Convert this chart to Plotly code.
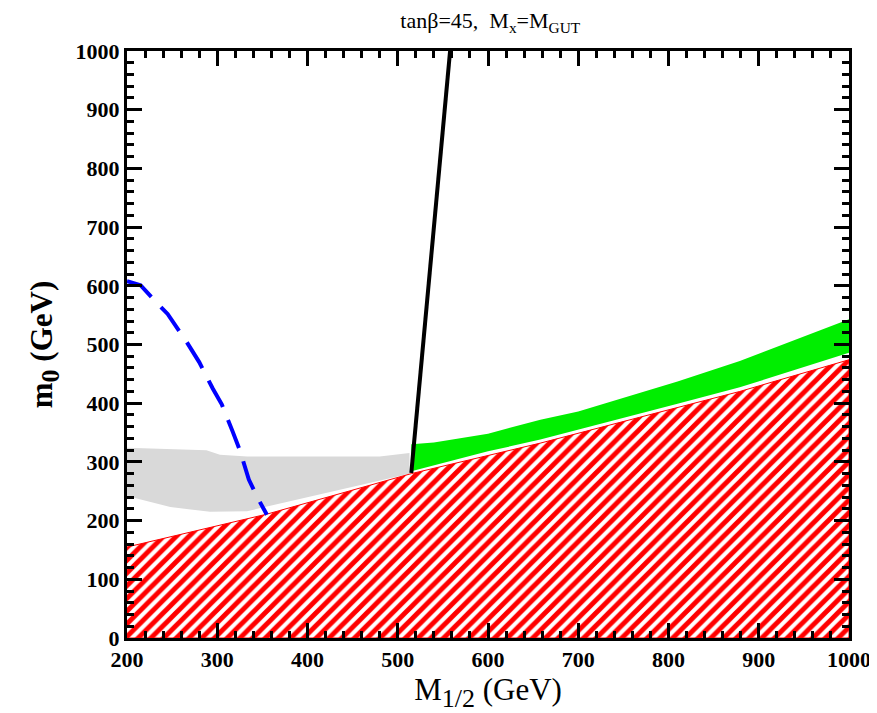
import plotly.graph_objects as go

# Excluded (hatched) region upper boundary
red_x = [200, 355, 515, 613, 658, 768, 879, 1000]
red_y = [155, 211, 280, 316, 332, 376, 420, 474]

# Green band
green_x = [515, 540, 600, 658, 700, 810, 879, 1000]
green_top = [330, 333, 348, 372, 386, 437, 472, 543]
green_bot = [284, 294, 318, 338, 354, 399, 427, 486]

# Grey region
grey_top_x = [200, 288, 303, 333, 480, 513]
grey_top_y = [324, 320, 312, 309, 309, 315]
grey_bot_x = [200, 248, 292, 333, 355, 513]
grey_bot_y = [242, 223, 215, 216, 223, 280]

# Blue dashed curve
blue_x = [200, 215, 230, 245, 265, 280, 295, 305, 317, 325, 335, 345, 355]
blue_y = [608, 601, 576, 552, 507, 470, 425, 398, 352, 320, 270, 238, 210]

# Black line
black_x = [515, 558]
black_y = [281, 1000]

fig = go.Figure()

fig.add_trace(go.Scatter(
    x=grey_top_x + grey_bot_x[::-1], y=grey_top_y + grey_bot_y[::-1],
    fill='toself', fillcolor='#d9d9d9', line=dict(width=0), mode='lines',
    hoverinfo='skip', showlegend=False))

fig.add_trace(go.Scatter(
    x=red_x + [1000, 200], y=red_y + [0, 0],
    fill='toself', fillcolor='white',
    fillpattern=dict(shape='/', fgcolor='#ff0000', bgcolor='white', fgopacity=1,
                     size=9, solidity=0.55),
    line=dict(width=1, color='red'), mode='lines', hoverinfo='skip', showlegend=False))

fig.add_trace(go.Scatter(
    x=green_x + green_x[::-1], y=green_top + green_bot[::-1],
    fill='toself', fillcolor='#00ee00', line=dict(width=0), mode='lines',
    hoverinfo='skip', showlegend=False))

fig.add_trace(go.Scatter(
    x=blue_x, y=blue_y, mode='lines',
    line=dict(color='#0000ff', width=4, dash='30px,14px'),
    hoverinfo='skip', showlegend=False))

fig.add_trace(go.Scatter(
    x=black_x, y=black_y, mode='lines', line=dict(color='black', width=4),
    hoverinfo='skip', showlegend=False))

axis_common = dict(
    showgrid=False, zeroline=False, showline=True, linecolor='black', linewidth=3,
    mirror='allticks', ticks='inside', ticklen=15, tickwidth=3, tickcolor='black',
    automargin=False,
    tickfont=dict(family='Liberation Serif', size=22, color='black', weight='bold'),
    minor=dict(ticks='inside', ticklen=7, tickwidth=3, tickcolor='black', dtick=20, showgrid=False),
)

fig.update_xaxes(range=[200, 1000], dtick=100, tick0=200, **axis_common,
                 title=dict(text='M<sub><span style="font-size:26px">1/2</span></sub> (GeV)',
                            font=dict(family='Liberation Serif', size=31, color='black'),
                            standoff=0))
fig.update_yaxes(range=[0, 1000], dtick=100, tick0=0, **axis_common,
                 title=dict(text='<b>m<sub><span style="font-size:26px">0</span></sub> (GeV)</b>',
                            font=dict(family='Liberation Serif', size=31, color='black'),
                            standoff=14))

fig.update_layout(
    width=869, height=705,
    margin=dict(l=119, r=28, t=43, b=75),
    plot_bgcolor='white', paper_bgcolor='white',
    title=dict(text='tanβ=45, \u00a0M<sub>x</sub>=M<sub>GUT</sub>',
               font=dict(family='Liberation Serif', size=22, color='black'),
               x=0.555, xanchor='center', y=0.982, yanchor='middle'),
)

fig.write_html("out.html")
